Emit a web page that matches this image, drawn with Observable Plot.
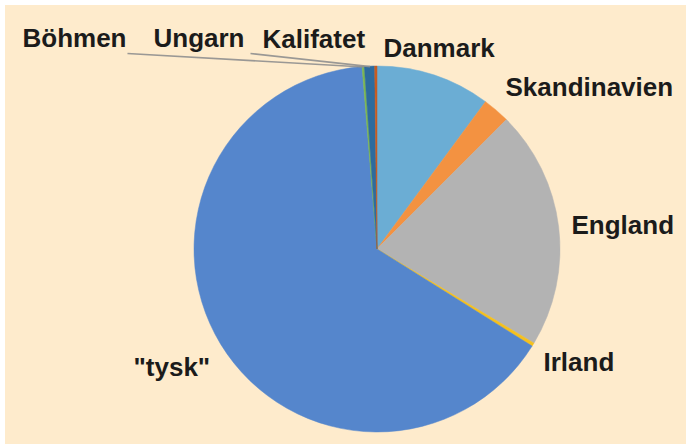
<!DOCTYPE html>
<html><head><meta charset="utf-8">
<script src="https://cdn.jsdelivr.net/npm/d3@7"></script>
<script src="https://cdn.jsdelivr.net/npm/@observablehq/plot@0.6"></script>
<style>
html,body{margin:0;padding:0;background:#ffffff;}
#chart{position:absolute;left:5px;top:5px;}
</style></head><body><div id="chart"></div>
<script>
// Data (shares in %)
const categories = ["Danmark", "Skandinavien", "England", "Irland", "\"tysk\"", "Böhmen", "Ungarn", "Kalifatet"];
const shares = [10.1, 2.4, 21.1, 0.3, 64.8, 0.2, 0.9, 0.2];
const colors = ["#6badd4", "#f39241", "#b3b3b3", "#f4c01e", "#5586cc", "#7ab650", "#2d6b9e", "#c75b20"];

// Layout (svg coordinates)
const W = 681, H = 439;
const cx = 372, cy = 244, R = 183;
const labelX = [378, 500, 566, 538, 128, 17, 148, 257];
const labelY = [51, 90, 228, 365, 370, 41, 41, 42];
const leaderFrom = {"Böhmen": [122, 48], "Ungarn": [245, 48]};

const table = categories.map((c, i) => ({category: c, share: shares[i], color: colors[i], lx: labelX[i], ly: labelY[i]}));
const arcs = d3.pie().sort(null).value(d => d.share)(table);

const leaders = arcs.filter(a => leaderFrom[a.data.category]).map(a => {
  const mid = (a.startAngle + a.endAngle) / 2;
  return {
    x1: leaderFrom[a.data.category][0], y1: leaderFrom[a.data.category][1],
    x2: cx + R * Math.sin(mid), y2: cy - R * Math.cos(mid)
  };
});

function pieMark(index, scales) {
  const g = d3.create("svg:g")
    .attr("transform", `translate(${scales.x(cx)},${scales.y(cy)})`);
  const arc = d3.arc().innerRadius(0).outerRadius(R);
  g.selectAll("path").data(arcs).join("path")
    .attr("d", arc)
    .attr("fill", d => d.data.color)
    .attr("stroke", d => d.data.color)
    .attr("stroke-width", 0.5);
  return g.node();
}

const chart = Plot.plot({
  width: W, height: H,
  margin: 0,
  style: {background: "#feebcc", fontFamily: "'Liberation Sans', Arial, sans-serif"},
  x: {domain: [0, W], range: [0, W], axis: null},
  y: {domain: [0, H], range: [0, H], axis: null},
  marks: [
    pieMark,
    Plot.link(leaders, {x1: "x1", y1: "y1", x2: "x2", y2: "y2", stroke: "#8f8f8f", strokeWidth: 1.6, strokeOpacity: 0.9}),
    Plot.text(table, {x: "lx", y: "ly", text: "category", textAnchor: "start", lineAnchor: "bottom",
      fontSize: 26, fontWeight: "bold", fill: "#1b1b1b"})
  ]
});
document.getElementById("chart").appendChild(chart);
</script>
</body></html>
